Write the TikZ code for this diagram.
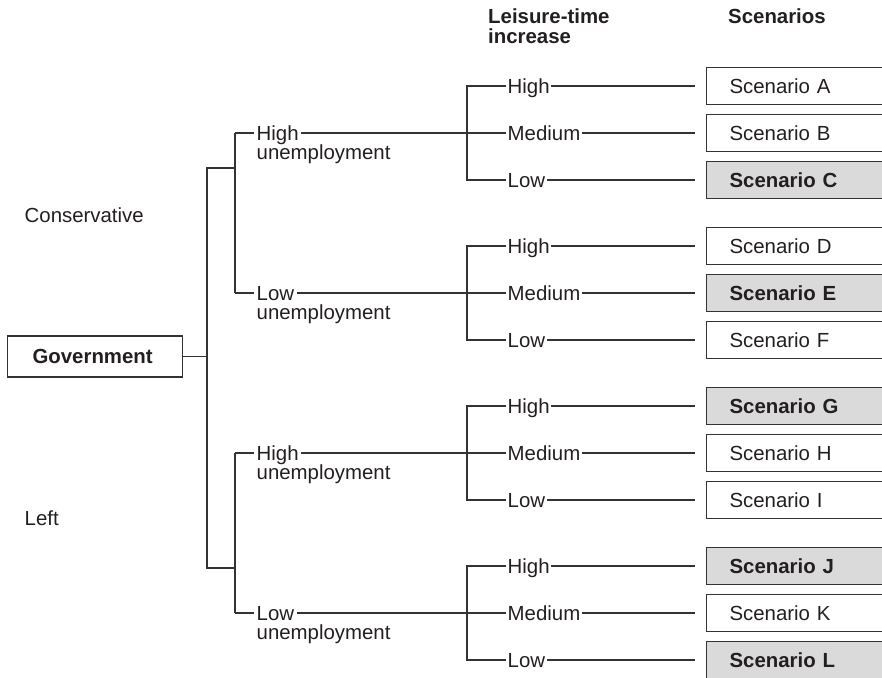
\documentclass[tikz,border=0pt]{standalone}
\usepackage{fontspec}
\setmainfont{Liberation Sans}
\definecolor{ink}{HTML}{231F20}
\definecolor{rule}{HTML}{333333}
\definecolor{shade}{HTML}{DADADA}
\begin{document}
\begin{tikzpicture}[x=1pt,y=-1pt,
  font=\fontsize{20.4}{19.5}\selectfont, text=ink,
  conn/.style={draw=rule, line width=1.1pt},
  lab/.style={inner xsep=1.5pt, inner ysep=0pt, text height=14.6pt, text depth=0pt},
  ulab/.style={lab, inner xsep=2.5pt},
  box/.style={draw=rule, line width=1.1pt, anchor=west, minimum height=37pt,
    text width=170pt, inner xsep=23pt, inner ysep=0pt, align=left,
    text height=14.6pt, text depth=0pt},
  plain/.style={box, fill=white},
  shaded/.style={box, fill=shade, font=\fontsize{20.4}{19.5}\selectfont\bfseries},
  head/.style={anchor=north west, inner sep=0pt, align=left,
    font=\fontsize{20.4}{20}\selectfont\bfseries}]
\clip (0,0) rectangle (882,677);

% column headings
\node[head] (hleisure) at (488,9) {Leisure-time\\increase};
\node[head] (hscen) at (728,9) {Scenarios};

% root
\node[draw=rule, line width=1.1pt, fill=white, anchor=west, minimum height=41pt,
  text width=125pt, inner xsep=25pt, inner ysep=0pt, align=left,
  text height=14.6pt, text depth=0pt, font=\fontsize{20.4}{19.5}\selectfont\bfseries]
  (gov) at (7,356.5) {Government};

% government types
\node[lab, anchor=west] (cons) at (23,215) {Conservative};
\node[lab, anchor=west] (left) at (23,518) {Left};

% trunk
\coordinate (t1) at (207,168);
\coordinate (t2) at (207,568);
\coordinate (ct) at (235,168);
\coordinate (lt) at (235,568);
\draw[conn] (ct) -- (t1) -- (t2) -- (lt);
\draw[conn] (gov.east) -- (gov.east -| t1);

% unemployment and leisure branches with scenarios
\foreach \g/\m/\u/\a/\b/\c/\sa/\sb/\sc in {
  1/133/High/A/B/C/plain/plain/shaded,
  2/293/Low/D/E/F/plain/shaded/plain,
  3/453/High/G/H/I/shaded/plain/plain,
  4/613/Low/J/K/L/shaded/plain/shaded}{
  \coordinate (uj\g) at (235,\m);
  \coordinate (lv\g) at (467,\m);
  \node[ulab, anchor=west] (u\g) at (254,\m) {\u};
  \node[anchor=base west, inner sep=0pt, yshift=-19.5pt] (uu\g) at ([xshift=2.5pt]u\g.base west) {unemployment};
  \draw[conn] (uj\g) -- (u\g.west);
  \draw[conn] (u\g.east) -- (lv\g);
  % leisure-time increase
  \node[lab, anchor=west] (hi\g) at (506,\m-47) {High};
  \node[lab, anchor=west] (me\g) at (506,\m) {Medium};
  \node[lab, anchor=west] (lo\g) at (506,\m+47) {Low};
  \draw[conn] (hi\g.west) -| (lv\g) |- (lo\g.west);
  \draw[conn] (lv\g) -- (me\g.west);
  % scenarios
  \node[\sa] (s\a) at (706,\m-47) {Scenario \a};
  \node[\sb] (s\b) at (706,\m) {Scenario \b};
  \node[\sc] (s\c) at (706,\m+47) {Scenario \c};
  \draw[conn] (hi\g.east) -- (hi\g.east -| 695,0);
  \draw[conn] (me\g.east) -- (me\g.east -| 695,0);
  \draw[conn] (lo\g.east) -- (lo\g.east -| 695,0);
}
\draw[conn] (uj1) -- (uj2);
\draw[conn] (uj3) -- (uj4);
\end{tikzpicture}
\end{document}
